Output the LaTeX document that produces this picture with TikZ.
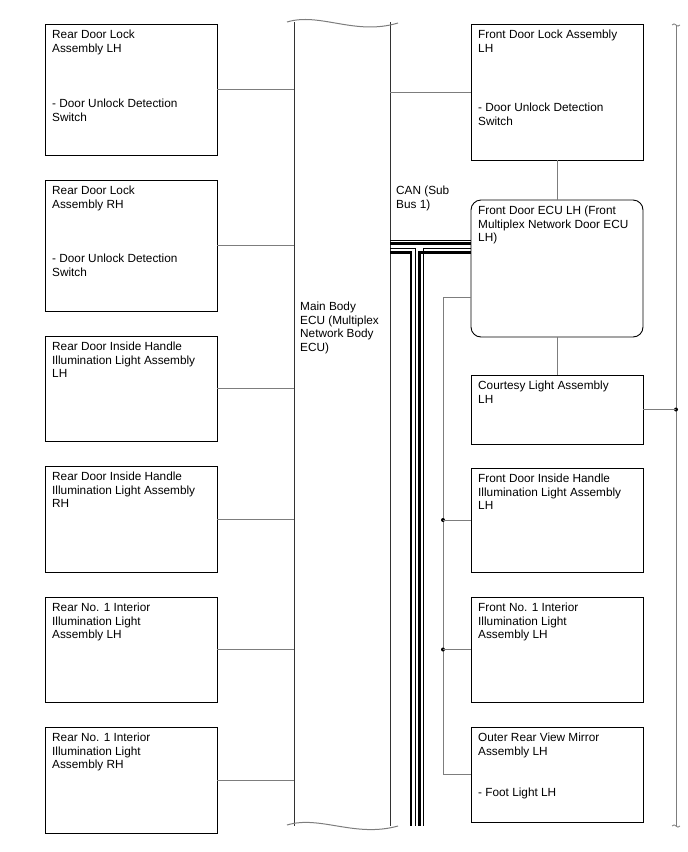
\documentclass[tikz,border=0pt]{standalone}
\usepackage{fontspec}
\setmainfont{Liberation Sans}
\usetikzlibrary{positioning}
\usetikzlibrary{calc}

\definecolor{wiregray}{RGB}{125,125,125}
\definecolor{ecudark}{RGB}{50,50,50}

\tikzset{
  part/.style={draw=black, line width=0.9pt, minimum width=172pt, inner sep=0pt, outer sep=0pt, anchor=north},
  ecubox/.style={part, rounded corners=10pt},
  txt/.style={anchor=north west, inner sep=0pt, align=left, font=\fontsize{11.8}{13.5}\selectfont},
  wire/.style={draw=wiregray, line width=0.8pt},
  ecuedge/.style={draw=ecudark, line width=1pt},
  wave/.style={draw=wiregray, line width=1pt},
  canhi/.style={draw=black, line width=2.4pt},
  canlo/.style={draw=black, line width=0.9pt},
  tap/.style={circle, fill=black, inner sep=0pt, minimum size=4pt}
}

\begin{document}
\begin{tikzpicture}[x=1pt, y=-1pt, node distance=25pt]
\useasboundingbox (0,0) rectangle (688,852);

% left column
\node[part, minimum height=131pt] (rdlLH) at (131,24) {};
\node[part, minimum height=131pt] (rdlRH) [below = of rdlLH] {};
\node[part, minimum height=105pt] (rdiLH) [below = of rdlRH] {};
\node[part, minimum height=106pt] (rdiRH) [below = of rdiLH] {};
\node[part, minimum height=105pt] (rniLH) [below = of rdiRH] {};
\node[part, minimum height=106pt] (rniRH) [below = of rniLH] {};

\node[txt, below right = 6pt and 7pt of rdlLH.north west] (rdlLHt) {Rear Door Lock\\Assembly LH};
\node[txt, below right = 75pt and 7pt of rdlLH.north west] (rdlLHs) {- Door Unlock Detection\\Switch};
\node[txt, below right = 6pt and 7pt of rdlRH.north west] (rdlRHt) {Rear Door Lock\\Assembly RH};
\node[txt, below right = 74pt and 7pt of rdlRH.north west] (rdlRHs) {- Door Unlock Detection\\Switch};
\node[txt, below right = 6pt and 7pt of rdiLH.north west] (rdiLHt) {Rear Door Inside Handle\\Illumination Light Assembly\\LH};
\node[txt, below right = 6pt and 7pt of rdiRH.north west] (rdiRHt) {Rear Door Inside Handle\\Illumination Light Assembly\\RH};
\node[txt, below right = 6pt and 7pt of rniLH.north west] (rniLHt) {Rear No. 1 Interior\\Illumination Light\\Assembly LH};
\node[txt, below right = 6pt and 7pt of rniRH.north west] (rniRHt) {Rear No. 1 Interior\\Illumination Light\\Assembly RH};

% main body ecu
\node[minimum width=96pt, minimum height=804pt, inner sep=0pt, outer sep=0pt, anchor=north] (bodyecu) at (342,22) {};
\draw[ecuedge] (bodyecu.north west) -- (bodyecu.south west);
\draw[ecuedge] (bodyecu.north east) -- (bodyecu.south east);
\draw[wave] (287,22) .. controls (320,12) and (355,36) .. (398,23);
\draw[wave] (287,825) .. controls (320,815) and (355,838) .. (398,826);
\node[txt] (bodyecut) at (300,302) {Main Body\\ECU (Multiplex\\Network Body\\ECU)};

\foreach \p in {rdlLH, rdlRH, rdiLH, rdiRH, rniLH, rniRH}
  \draw[wire] (\p.east) -- (bodyecu.west |- \p.east);

% right column
\node[part, minimum height=136pt] (fdl) at (557,24) {};
\node[ecubox, minimum height=137pt] (fdecu) [below = 40pt of fdl] {};
\node[part, minimum height=69pt] (ctsy) [below = 38pt of fdecu] {};
\node[part, minimum height=104pt] (fdi) [below = 24pt of ctsy] {};
\node[part, minimum height=105pt] (fni) [below = of fdi] {};
\node[part, minimum height=95pt] (orvm) [below = of fni] {};

\node[txt, below right = 6pt and 7pt of fdl.north west] (fdlt) {Front Door Lock Assembly\\LH};
\node[txt, below right = 79pt and 7pt of fdl.north west] (fdls) {- Door Unlock Detection\\Switch};
\node[txt, below right = 6pt and 7pt of fdecu.north west] (fdecut) {Front Door ECU LH (Front\\Multiplex Network Door ECU\\LH)};
\node[txt, below right = 6pt and 7pt of ctsy.north west] (ctsyt) {Courtesy Light Assembly\\LH};
\node[txt, below right = 6pt and 7pt of fdi.north west] (fdit) {Front Door Inside Handle\\Illumination Light Assembly\\LH};
\node[txt, below right = 6pt and 7pt of fni.north west] (fnit) {Front No. 1 Interior\\Illumination Light\\Assembly LH};
\node[txt, below right = 6pt and 7pt of orvm.north west] (orvmt) {Outer Rear View Mirror\\Assembly LH};
\node[txt, below right = 61pt and 7pt of orvm.north west] (orvms) {- Foot Light LH};

\draw[wire] (bodyecu.east |- fdl.west) -- (fdl.west);
\draw[wire] (fdl.south) -- (fdecu.north);
\draw[wire] (fdecu.south) -- (ctsy.north);

% can sub bus 1
\node[txt] (cant) at (396,186) {CAN (Sub\\Bus 1)};
\coordinate (canA) at (0,240.5);
\coordinate (canB) at (0,243.5);
\coordinate (canC) at (0,248);
\coordinate (canD) at (0,252.5);
\coordinate (canend1) at (411,826);
\coordinate (canend2) at (415,826);
\coordinate (canend3) at (419.5,826);
\coordinate (canend4) at (423.5,826);
\draw[canlo] (bodyecu.east |- canA) -- (fdecu.west |- canA);
\draw[canhi] (bodyecu.east |- canB) -- (fdecu.west |- canB);
\draw[canlo] (bodyecu.east |- canC) -| (canend2);
\draw[canhi] (bodyecu.east |- canD) -| (canend1);
\draw[canlo] (fdecu.west |- canC) -| (canend4);
\draw[canhi] (fdecu.west |- canD) -| (canend3);

% door side bus
\coordinate (busx) at (443,0);
\draw[wire] ([yshift=-28.5pt]fdecu.west) -| (busx |- orvm.west) -- (orvm.west);
\node[tap] (tapfdi) at (busx |- fdi.west) {};
\node[tap] (tapfni) at (busx |- fni.west) {};
\draw[wire] (tapfdi.center) -- (fdi.west);
\draw[wire] (tapfni.center) -- (fni.west);

% illumination bracket
\coordinate (brtop) at (676,25);
\coordinate (brbot) at (676,826);
\draw[wire] (brtop) -- (brbot);
\draw[wave, line width=0.8pt] (672,25) .. controls (675,21) and (677,29) .. (680,25);
\draw[wave, line width=0.8pt] (672,826) .. controls (675,822) and (677,830) .. (680,826);
\node[tap] (tapctsy) at (brtop |- ctsy.east) {};
\draw[wire] (ctsy.east) -- (tapctsy.center);

\end{tikzpicture}
\end{document}
